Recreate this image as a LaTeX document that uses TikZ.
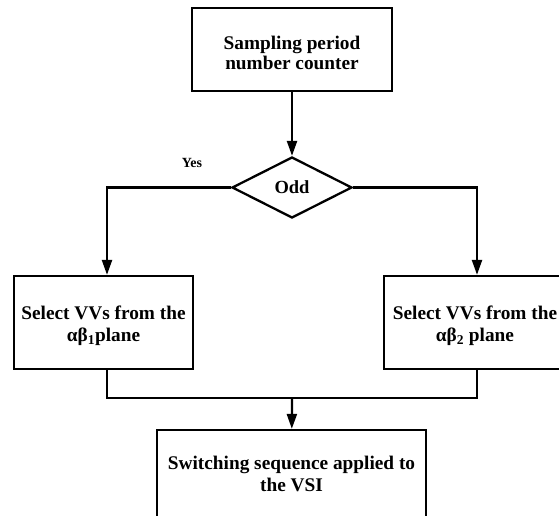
\documentclass[tikz,border=0pt]{standalone}
\usepackage{fontspec}
\setmainfont{Liberation Serif}
\usetikzlibrary{shapes.geometric,arrows.meta}
\newcommand{\lowr}{\rule{0pt}{20pt}}
\begin{document}
\begin{tikzpicture}[x=1pt,y=1pt,
  line width=2.3pt,
  box/.style={draw, rectangle, align=center, inner sep=0pt, font=\fontsize{19.3}{22}\selectfont\bfseries},
  dec/.style={draw, diamond, inner sep=0pt, font=\fontsize{18.5}{21}\selectfont\bfseries},
  lbl/.style={inner sep=0pt, font=\fontsize{14}{16}\selectfont\bfseries},
  arr/.style={-{Triangle[length=15pt,width=10pt]}},
  ]
\useasboundingbox (0,0) rectangle (559,-515);
\clip (0,0) rectangle (559,-515);
\node[box, minimum width=200, minimum height=83, font=\fontsize{19.3}{20}\selectfont\bfseries] (top) at (292,-49.5) {\lowr Sampling period\\number counter};
\node[dec, minimum width=120, minimum height=61] (d) at (292,-187.5) {Odd};
\node[lbl] (yes) at (192,-163) {Yes};
\node[box, minimum width=179, minimum height=93] (lbox) at (103.5,-322.5) {\lowr Select VVs from the\\αβ\textsubscript{1}plane};
\node[box, minimum width=182, minimum height=93] (rbox) at (475,-322.5) {\lowr Select VVs from the\\αβ\textsubscript{2} plane};
\node[box, minimum width=269, minimum height=88] (bot) at (291.5,-474) {Switching sequence applied to\\the VSI};
\coordinate (j) at (292,-398);
\draw[arr] (top) -- (d);
\draw[arr] (d.west) -| ([xshift=3.5]lbox.north);
\draw[arr] (d.east) -| ([xshift=2]rbox.north);
\draw ([xshift=3.5]lbox.south) |- (j) -| ([xshift=2]rbox.south);
\draw[arr] (j) -- (bot);
\end{tikzpicture}
\end{document}
